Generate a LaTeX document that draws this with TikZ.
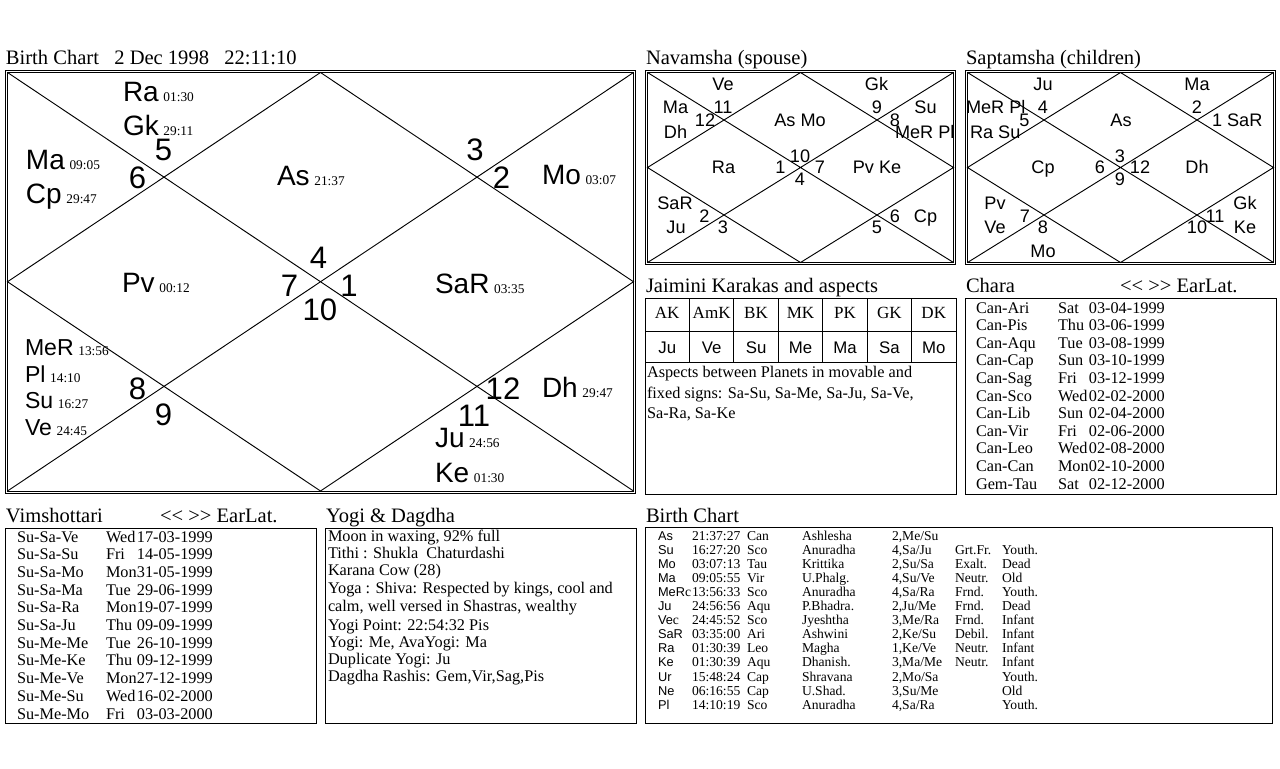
\documentclass[tikz,border=0pt]{standalone}
\usepackage{fontspec}
\setmainfont{Liberation Serif}
\newfontfamily\arial{Liberation Sans}
\newcommand\ttlfont{\rmfamily\fontsize{15.4}{18}\selectfont}
\newcommand\rowfont{\rmfamily\fontsize{12.2}{14}\selectfont}
\newcommand\tblfont{\rmfamily\fontsize{10.2}{12}\selectfont}
\newcommand\tarial{\arial\fontsize{9.6}{12}\selectfont}
\newcommand\bigpl{\arial\fontsize{21}{24}\selectfont}
\newcommand\midpl{\arial\fontsize{17.3}{20}\selectfont}
\newcommand\hnum{\arial\fontsize{23.3}{26}\selectfont}
\newcommand\degf{\rmfamily\fontsize{10}{12}\selectfont}
\newcommand\smc{\arial\fontsize{13.6}{16}\selectfont}
\newcommand\jhd{\rmfamily\fontsize{12.8}{15}\selectfont}
\newcommand\jpl{\arial\fontsize{12.6}{15}\selectfont}
\newcommand\dg[1]{\hspace{3.5pt}{\degf #1}}
\newcommand\earlat{<\kern0pt< >\kern0pt> EarLat.}
\newcommand\rmc{{\tblfont c}}
\begin{document}
\begin{tikzpicture}[x=0.75pt,y=-0.75pt,
  frame/.style={line width=0.7pt, draw=black},
  tx/.style={inner sep=0pt, outer sep=0pt, anchor=base west},
  cx/.style={inner sep=0pt, outer sep=0pt, anchor=base}]
\useasboundingbox (0,0) rectangle (1280,768);
\fill[white] (0,0) rectangle (1280,768);

% ---------- chart frames ----------
\newcommand\vchart[4]{%
  \draw[frame] ({#1-2},{#2-2}) rectangle ({#3+2},{#4+2});
  \draw[frame] (#1,#2) rectangle (#3,#4);
  \draw[frame] (#1,#2) -- (#3,#4) (#3,#2) -- (#1,#4);
  \draw[frame] ({(#1+#3)/2},#2) -- (#3,{(#2+#4)/2}) -- ({(#1+#3)/2},#4) -- (#1,{(#2+#4)/2}) -- cycle;
}
\vchart{7.5}{72.5}{633.5}{491}
\vchart{647.5}{72.5}{953.5}{262.5}
\vchart{967.5}{72.5}{1273.5}{262.5}

% ---------- titles ----------
\node[tx,font=\ttlfont] (t1) at (6,64) {Birth Chart\ \ \ 2 Dec 1998\ \ \ 22:11:10};
\node[tx,font=\ttlfont] (t2) at (646,64) {Navamsha (spouse)};
\node[tx,font=\ttlfont] (t3) at (966,64) {Saptamsha (children)};
\node[tx,font=\ttlfont] (t4) at (646,292) {Jaimini Karakas and aspects};
\node[tx,font=\ttlfont] (t5) at (966,292) {Chara};
\node[tx,font=\ttlfont] (t6) at (1120,292) {\earlat};
\node[tx,font=\ttlfont] (t7) at (6,522) {Vimshottari};
\node[tx,font=\ttlfont] (t8) at (160,522) {\earlat};
\node[tx,font=\ttlfont] (t9) at (326,522) {Yogi \& Dagdha};
\node[tx,font=\ttlfont] (t10) at (646,522) {Birth Chart};

% ---------- main chart ----------
\foreach \x/\y/\t in {163.5/160/5, 137.5/188/6, 475/160/3, 501.5/188/2, 318.5/268/4,
  289.5/296/7, 349/296/1, 320/320/10, 137.5/399/8, 163.5/425/9, 503/399/12, 474/426/11}
  \node[cx,font=\hnum,name=h\t] at (\x,\y) {\t};
\node[tx,font=\bigpl] (pRa) at (123,101) {Ra\dg{01:30}};
\node[tx,font=\bigpl] (pGk) at (123,135) {Gk\dg{29:11}};
\node[tx,font=\bigpl] (pMa) at (26,169) {Ma\dg{09:05}};
\node[tx,font=\bigpl] (pCp) at (26,203) {Cp\dg{29:47}};
\node[tx,font=\bigpl] (pAs) at (277,185) {As\dg{21:37}};
\node[tx,font=\bigpl] (pMo) at (542,184) {Mo\dg{03:07}};
\node[tx,font=\bigpl] (pPv) at (122,292) {Pv\dg{00:12}};
\node[tx,font=\bigpl] (pSaR) at (435,293) {SaR\dg{03:35}};
\node[tx,font=\midpl] (pMeR) at (25,355) {MeR\dg{13:56}};
\node[tx,font=\midpl] (pPl) at (25,382) {Pl\dg{14:10}};
\node[tx,font=\midpl] (pSu) at (25,408) {Su\dg{16:27}};
\node[tx,font=\midpl] (pVe) at (25,435) {Ve\dg{24:45}};
\node[tx,font=\bigpl] (pDh) at (542,397) {Dh\dg{29:47}};
\node[tx,font=\bigpl] (pJu) at (435,447) {Ju\dg{24:56}};
\node[tx,font=\bigpl] (pKe) at (435,482) {Ke\dg{01:30}};

% ---------- navamsha ----------
\foreach \x/\y/\t [count=\i] in {723/90/Ve, 723/113/11, 675.5/113/Ma, 705/126/12, 675.5/138/Dh,
  800/126/As Mo, 876.5/90/Gk, 877/113/9, 925.5/113/Su, 895/126/8, 800/162/10, 723.5/173/Ra,
  780.5/173/1, 820/173/7, 877/173/Pv Ke, 800/185/4, 675/209/SaR, 704.5/222/2, 676/233/Ju,
  723/233/3, 895/222/6, 925.5/222/Cp, 877/233/5}
  \node[cx,font=\smc,name=nv\i] at (\x,\y) {\t};
\node[tx,font=\smc] (nvMeR) at (895,138) {MeR Pl};

% ---------- saptamsha ----------
\foreach \x/\y/\t [count=\i] in {1043/90/Ju, 1043/113/4, 1024.5/126/5, 1121/126/As, 1197/90/Ma,
  1197/113/2, 1120/162/3, 1043/173/Cp, 1100/173/6, 1140/173/12, 1197/173/Dh, 1120/185/9,
  995/209/Pv, 1025/222/7, 995/233/Ve, 1043/233/8, 1043/257/Mo, 1245/209/Gk, 1215/222/11,
  1197/233/10, 1245/233/Ke}
  \node[cx,font=\smc,name=sp\i] at (\x,\y) {\t};
\node[tx,font=\smc] (spMeR) at (966,113) {MeR Pl};
\node[tx,font=\smc] (spRa) at (970,138) {Ra Su};
\node[tx,font=\smc] (spSaR) at (1212,126) {1 SaR};

% ---------- Jaimini ----------
\draw[frame] (645,298) rectangle (956,494);
\draw[frame] (645,331) -- (956,331) (645,362) -- (956,362);
\foreach \i in {1,...,6} \draw[frame] ({645+\i*44.43},298) -- ({645+\i*44.43},362);
\foreach \h/\p [count=\i] in {AK/Ju,AmK/Ve,BK/Su,MK/Me,PK/Ma,GK/Sa,DK/Mo}{
  \node[cx,font=\jhd,name=jh\i] at ({645+(\i-0.5)*44.43},318) {\h};
  \node[cx,font=\jpl,name=jp\i] at ({645+(\i-0.5)*44.43},353) {\p};
}
\node[tx,font=\rowfont] (ja1) at (647,377) {Aspects between Planets in movable and};
\node[tx,font=\rowfont] (ja2) at (647,398) {fixed signs: Sa-Su, Sa-Me, Sa-Ju, Sa-Ve,};
\node[tx,font=\rowfont] (ja3) at (647,418) {Sa-Ra, Sa-Ke};

% ---------- Chara ----------
\draw[frame] (965,298) rectangle (1276,494);
\newcommand\crow[4]{%
  \node[tx,font=\rowfont] (chA#1) at (976,{313+(#1-1)*17.6}) {#2};
  \node[tx,font=\rowfont] (chB#1) at (1058,{313+(#1-1)*17.6}) {\makebox[1.9em][l]{#3}#4};
}
\crow{1}{Can-Ari}{Sat}{03-04-1999}
\crow{2}{Can-Pis}{Thu}{03-06-1999}
\crow{3}{Can-Aqu}{Tue}{03-08-1999}
\crow{4}{Can-Cap}{Sun}{03-10-1999}
\crow{5}{Can-Sag}{Fri}{03-12-1999}
\crow{6}{Can-Sco}{Wed}{02-02-2000}
\crow{7}{Can-Lib}{Sun}{02-04-2000}
\crow{8}{Can-Vir}{Fri}{02-06-2000}
\crow{9}{Can-Leo}{Wed}{02-08-2000}
\crow{10}{Can-Can}{Mon}{02-10-2000}
\crow{11}{Gem-Tau}{Sat}{02-12-2000}

% ---------- Vimshottari ----------
\draw[frame] (5,528) rectangle (316,723);
\newcommand\vrow[4]{%
  \node[tx,font=\rowfont] (viA#1) at (17,{542+(#1-1)*17.7}) {#2};
  \node[tx,font=\rowfont] (viB#1) at (106,{542+(#1-1)*17.7}) {\makebox[1.9em][l]{#3}#4};
}
\vrow{1}{Su-Sa-Ve}{Wed}{17-03-1999}
\vrow{2}{Su-Sa-Su}{Fri}{14-05-1999}
\vrow{3}{Su-Sa-Mo}{Mon}{31-05-1999}
\vrow{4}{Su-Sa-Ma}{Tue}{29-06-1999}
\vrow{5}{Su-Sa-Ra}{Mon}{19-07-1999}
\vrow{6}{Su-Sa-Ju}{Thu}{09-09-1999}
\vrow{7}{Su-Me-Me}{Tue}{26-10-1999}
\vrow{8}{Su-Me-Ke}{Thu}{09-12-1999}
\vrow{9}{Su-Me-Ve}{Mon}{27-12-1999}
\vrow{10}{Su-Me-Su}{Wed}{16-02-2000}
\vrow{11}{Su-Me-Mo}{Fri}{03-03-2000}

% ---------- Yogi & Dagdha ----------
\draw[frame] (325,528) rectangle (636,723);
\node[tx,font=\rowfont] (yo1) at (328,541) {Moon in waxing, 92\% full};
\node[tx,font=\rowfont] (yo2) at (328,558) {Tithi : Shukla\ \ Chaturdashi};
\node[tx,font=\rowfont] (yo3) at (328,575) {Karana Cow (28)};
\node[tx,font=\rowfont] (yo4) at (328,593) {Yoga : Shiva: Respected by kings, cool and};
\node[tx,font=\rowfont] (yo5) at (328,611) {calm, well versed in Shastras, wealthy};
\node[tx,font=\rowfont] (yo6) at (328,630) {Yogi Point: 22:54:32 Pis};
\node[tx,font=\rowfont] (yo7) at (328,647) {Yogi: Me, AvaYogi: Ma};
\node[tx,font=\rowfont] (yo8) at (328,664) {Duplicate Yogi: Ju};
\node[tx,font=\rowfont] (yo9) at (328,681) {Dagdha Rashis: Gem,Vir,Sag,Pis};

% ---------- Birth chart table ----------
\draw[frame] (645,527) rectangle (1272,723);
\newcommand\brow[8]{%
  \node[tx,font=\tarial] (bn#1) at (658,{540+(#1-1)*14.1}) {#2};
  \node[tx,font=\tblfont] (bd#1) at (692,{540+(#1-1)*14.1}) {#3};
  \node[tx,font=\tblfont] (bs#1) at (747,{540+(#1-1)*14.1}) {#4};
  \node[tx,font=\tblfont] (bk#1) at (802,{540+(#1-1)*14.1}) {#5};
  \node[tx,font=\tblfont] (bp#1) at (892,{540+(#1-1)*14.1}) {#6};
  \node[tx,font=\tblfont] (br#1) at (955,{540+(#1-1)*14.1}) {#7};
  \node[tx,font=\tblfont] (ba#1) at (1002,{540+(#1-1)*14.1}) {#8};
}
\brow{1}{As}{21:37:27}{Can}{Ashlesha}{2,Me/Su}{}{}
\brow{2}{Su}{16:27:20}{Sco}{Anuradha}{4,Sa/Ju}{Grt.Fr.}{Youth.}
\brow{3}{Mo}{03:07:13}{Tau}{Krittika}{2,Su/Sa}{Exalt.}{Dead}
\brow{4}{Ma}{09:05:55}{Vir}{U.Phalg.}{4,Su/Ve}{Neutr.}{Old}
\brow{5}{MeR\rmc}{13:56:33}{Sco}{Anuradha}{4,Sa/Ra}{Frnd.}{Youth.}
\brow{6}{Ju}{24:56:56}{Aqu}{P.Bhadra.}{2,Ju/Me}{Frnd.}{Dead}
\brow{7}{Ve\rmc}{24:45:52}{Sco}{Jyeshtha}{3,Me/Ra}{Frnd.}{Infant}
\brow{8}{SaR}{03:35:00}{Ari}{Ashwini}{2,Ke/Su}{Debil.}{Infant}
\brow{9}{Ra}{01:30:39}{Leo}{Magha}{1,Ke/Ve}{Neutr.}{Infant}
\brow{10}{Ke}{01:30:39}{Aqu}{Dhanish.}{3,Ma/Me}{Neutr.}{Infant}
\brow{11}{Ur}{15:48:24}{Cap}{Shravana}{2,Mo/Sa}{}{Youth.}
\brow{12}{Ne}{06:16:55}{Cap}{U.Shad.}{3,Su/Me}{}{Old}
\brow{13}{Pl}{14:10:19}{Sco}{Anuradha}{4,Sa/Ra}{}{Youth.}
\end{tikzpicture}
\end{document}
